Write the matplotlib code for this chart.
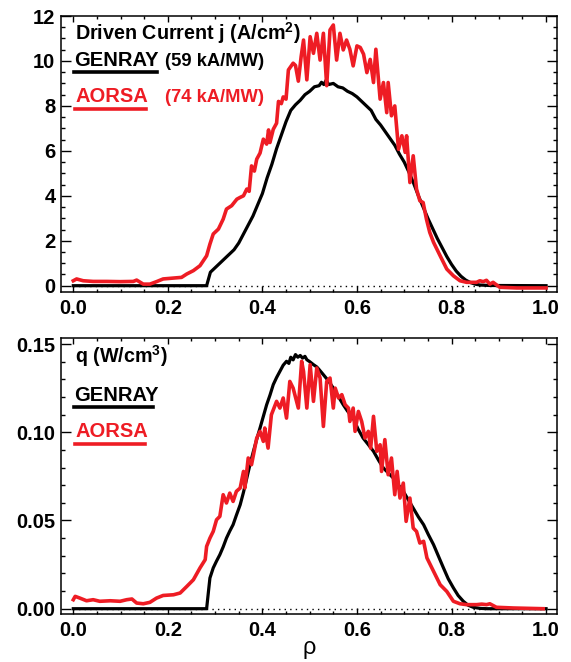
import matplotlib
matplotlib.use("Agg")
import matplotlib.pyplot as plt
from matplotlib.ticker import MultipleLocator

plt.rcParams['font.family'] = ['Liberation Sans', 'DejaVu Sans']
plt.rcParams['mathtext.fontset'] = 'custom'
plt.rcParams['mathtext.rm'] = 'Liberation Sans:bold'
plt.rcParams['mathtext.bf'] = 'Liberation Sans:bold'

# ---------------- data: driven current j (A/cm^2) ----------------
rho_j_genray = [0.000, 0.282, 0.286, 0.290, 0.300, 0.310, 0.320, 0.330, 0.340, 0.350,
                0.360, 0.370, 0.380, 0.390, 0.400, 0.410, 0.420, 0.430, 0.440, 0.450,
                0.460, 0.470, 0.480, 0.490, 0.500, 0.510, 0.520, 0.525, 0.530, 0.535,
                0.540, 0.550, 0.560, 0.570, 0.580, 0.590, 0.600, 0.610, 0.620, 0.630,
                0.640, 0.650, 0.660, 0.670, 0.680, 0.690, 0.700, 0.710, 0.720, 0.730,
                0.740, 0.750, 0.760, 0.770, 0.780, 0.790, 0.800, 0.810, 0.820, 0.830,
                0.840, 0.850, 0.860, 0.880, 1.000]
j_genray = [0.0, 0.0, 0.3, 0.6, 0.8, 1.0, 1.2, 1.4, 1.6, 1.9,
            2.3, 2.7, 3.1, 3.6, 4.1, 4.8, 5.4, 6.1, 6.7, 7.3,
            7.8, 8.05, 8.25, 8.5, 8.65, 8.85, 8.9, 9.05, 8.95, 9.15,
            8.95, 9.0, 8.85, 8.8, 8.65, 8.55, 8.4, 8.2, 8.0, 7.8,
            7.4, 7.15, 6.85, 6.55, 6.25, 5.85, 5.5, 5.05, 4.55, 4.0,
            3.5, 3.0, 2.55, 2.1, 1.7, 1.3, 0.95, 0.65, 0.42, 0.25,
            0.14, 0.07, 0.03, 0.01, 0.0]

rho_j_aorsa = [0.000, 0.007, 0.021, 0.042, 0.071, 0.099, 0.127, 0.134, 0.148, 0.162,
               0.176, 0.190, 0.212, 0.229, 0.240, 0.254, 0.268, 0.282, 0.289, 0.296,
               0.307, 0.317, 0.324, 0.335, 0.346, 0.353, 0.360, 0.367, 0.372, 0.377,
               0.383, 0.388, 0.395, 0.402, 0.409, 0.413, 0.416, 0.423, 0.430, 0.434,
               0.440, 0.444, 0.450, 0.455, 0.465, 0.470, 0.476, 0.482, 0.487, 0.494,
               0.501, 0.508, 0.515, 0.522, 0.529, 0.536, 0.543, 0.550, 0.557, 0.564,
               0.571, 0.578, 0.585, 0.592, 0.600, 0.607, 0.614, 0.621, 0.628, 0.635,
               0.640, 0.649, 0.656, 0.663, 0.666, 0.673, 0.680, 0.688, 0.695, 0.702,
               0.705, 0.712, 0.719, 0.726, 0.733, 0.740, 0.747, 0.754, 0.762, 0.769,
               0.776, 0.790, 0.804, 0.818, 0.832, 0.853, 0.860, 0.867, 0.874, 0.881,
               0.888, 0.902, 0.938, 1.000]
j_aorsa = [0.22, 0.30, 0.22, 0.19, 0.19, 0.18, 0.19, 0.25, 0.07, 0.07,
           0.18, 0.30, 0.34, 0.37, 0.52, 0.67, 0.89, 1.33, 1.85, 2.30,
           2.52, 2.96, 3.41, 3.56, 3.85, 3.93, 4.00, 4.30, 4.20, 5.33,
           5.10, 5.63, 5.90, 6.52, 6.30, 6.93, 6.37, 6.96, 7.23, 8.20,
           8.10, 8.40, 8.30, 9.60, 9.90, 9.80, 9.10, 10.2, 10.93, 9.16,
           11.08, 10.34, 11.23, 10.04, 11.23, 8.90, 11.38, 11.60, 10.04, 11.23,
           10.49, 10.93, 10.52, 9.78, 10.67, 10.60, 10.30, 9.48, 10.07, 9.04,
           10.52, 8.30, 9.04, 7.70, 9.04, 7.56, 8.00, 6.07, 6.67, 5.93,
           6.67, 4.59, 5.78, 4.30, 3.78, 3.70, 2.96, 2.37, 1.93, 1.63,
           1.33, 0.74, 0.44, 0.22, 0.15, 0.15, 0.22, 0.18, 0.24, 0.07,
           0.15, -0.07, -0.10, -0.10]

# ---------------- data: power density q (W/cm^3) ----------------
rho_q_genray = [0.000, 0.282, 0.286, 0.289, 0.296, 0.303, 0.310, 0.317, 0.324, 0.331,
                0.338, 0.345, 0.353, 0.360, 0.367, 0.374, 0.381, 0.388, 0.395, 0.402,
                0.409, 0.416, 0.423, 0.430, 0.437, 0.444, 0.451, 0.456, 0.460, 0.465,
                0.470, 0.475, 0.480, 0.485, 0.490, 0.494, 0.500, 0.508, 0.515, 0.520,
                0.529, 0.540, 0.550, 0.560, 0.571, 0.580, 0.592, 0.602, 0.613, 0.624,
                0.635, 0.646, 0.656, 0.666, 0.677, 0.688, 0.698, 0.708, 0.719, 0.730,
                0.741, 0.751, 0.762, 0.772, 0.783, 0.793, 0.804, 0.814, 0.825, 0.835,
                0.846, 0.860, 0.875, 1.000]
q_genray = [0.0, 0.0, 0.010, 0.0174, 0.0231, 0.027, 0.0306, 0.035, 0.040, 0.044,
            0.0476, 0.053, 0.0589, 0.066, 0.074, 0.082, 0.0892, 0.096, 0.1024, 0.109,
            0.1156, 0.121, 0.127, 0.131, 0.1345, 0.138, 0.1402, 0.139, 0.1425, 0.141,
            0.1440, 0.1425, 0.1435, 0.1420, 0.1430, 0.1411, 0.140, 0.1383, 0.137, 0.1355,
            0.1326, 0.129, 0.1250, 0.1205, 0.1156, 0.112, 0.108, 0.102, 0.0967, 0.093,
            0.0892, 0.084, 0.0797, 0.077, 0.074, 0.070, 0.0665, 0.062, 0.057, 0.052,
            0.0476, 0.042, 0.0363, 0.030, 0.0231, 0.017, 0.0118, 0.0075, 0.0042, 0.002,
            0.0008, 0.0002, 0.0, 0.0]

rho_q_aorsa = [0.000, 0.004, 0.014, 0.028, 0.042, 0.056, 0.078, 0.099, 0.113, 0.124,
               0.134, 0.148, 0.162, 0.176, 0.190, 0.212, 0.226, 0.240, 0.254, 0.268,
               0.279, 0.282, 0.289, 0.296, 0.303, 0.310, 0.317, 0.324, 0.331, 0.338,
               0.345, 0.353, 0.360, 0.363, 0.370, 0.377, 0.388, 0.395, 0.402, 0.405,
               0.412, 0.419, 0.430, 0.437, 0.444, 0.451, 0.458, 0.465, 0.476, 0.483,
               0.487, 0.494, 0.501, 0.508, 0.515, 0.522, 0.529, 0.536, 0.543, 0.550,
               0.554, 0.561, 0.568, 0.575, 0.582, 0.585, 0.592, 0.596, 0.603, 0.610,
               0.617, 0.624, 0.629, 0.635, 0.642, 0.649, 0.652, 0.659, 0.666, 0.673,
               0.680, 0.685, 0.691, 0.698, 0.704, 0.712, 0.719, 0.726, 0.733, 0.741,
               0.748, 0.755, 0.762, 0.769, 0.776, 0.790, 0.804, 0.818, 0.832, 0.853,
               0.864, 0.874, 0.881, 0.895, 0.931, 0.994]
q_aorsa = [0.0051, 0.0070, 0.0060, 0.0045, 0.0051, 0.0042, 0.0045, 0.0042, 0.0051, 0.0055,
           0.0032, 0.0028, 0.0036, 0.0060, 0.0075, 0.0079, 0.0089, 0.0126, 0.0164, 0.0231,
           0.0278, 0.0353, 0.0400, 0.0438, 0.0504, 0.0523, 0.0646, 0.0599, 0.0655, 0.0608,
           0.0665, 0.0684, 0.0778, 0.0684, 0.0854, 0.0816, 0.0967, 0.1005, 0.0948, 0.1024,
           0.0910, 0.1099, 0.1175, 0.1137, 0.1194, 0.1080, 0.1288, 0.1250, 0.1137, 0.1402,
           0.1345, 0.1137, 0.1383, 0.1175, 0.1364, 0.1307, 0.1033, 0.1288, 0.1307, 0.1137,
           0.1250, 0.1194, 0.1213, 0.1156, 0.1137, 0.1061, 0.1137, 0.1005, 0.1118, 0.1061,
           0.0967, 0.1005, 0.0910, 0.1090, 0.0892, 0.0929, 0.0778, 0.0958, 0.0759, 0.0854,
           0.0646, 0.0778, 0.0627, 0.0712, 0.0495, 0.0627, 0.0457, 0.0438, 0.0372, 0.0382,
           0.0288, 0.0250, 0.0212, 0.0174, 0.0136, 0.0098, 0.0042, 0.0028, 0.0023, 0.0023,
           0.0026, 0.0023, 0.0028, 0.0008, 0.0004, 0.0]

x_ticks = [0.0, 0.2, 0.4, 0.6, 0.8, 1.0]
j_ticks = [0, 2, 4, 6, 8, 10, 12]
q_ticks = [0.00, 0.05, 0.10, 0.15]

RED = '#ee1c24'
W, H = 571, 662

fig = plt.figure(figsize=(W / 100, H / 100), dpi=100)


def px_axes(left, top, right, bottom):
    return fig.add_axes([left / W, 1 - bottom / H, (right - left) / W, (bottom - top) / H])


ax1 = px_axes(61, 16, 556.7, 291.7)
ax2 = px_axes(61, 338, 556.7, 614)


def style(ax, yticks, ymin, ymax, yminor, fmt):
    ax.set_xlim(-0.026, 1.0225)
    ax.set_ylim(ymin, ymax)
    ax.set_xticks(x_ticks)
    ax.set_xticklabels([f"{v:.1f}" for v in x_ticks])
    ax.set_yticks(yticks)
    ax.set_yticklabels([fmt.format(v) for v in yticks])
    ax.xaxis.set_minor_locator(MultipleLocator(0.05))
    ax.yaxis.set_minor_locator(MultipleLocator(yminor))
    ax.tick_params(axis='both', which='both', direction='in', top=True, right=True,
                   width=1.0, colors='black')
    ax.tick_params(axis='x', which='major', length=4.5, pad=5)
    ax.tick_params(axis='x', which='minor', length=2.2)
    ax.tick_params(axis='y', which='major', length=7.5, pad=4)
    ax.tick_params(axis='y', which='minor', length=2.6)
    for lab in ax.get_xticklabels() + ax.get_yticklabels():
        lab.set_fontsize(14.5)
        lab.set_fontweight('bold')
    for s in ax.spines.values():
        s.set_linewidth(1.1)
    ax.plot([0, 1], [0, 0], ls=(0, (1, 3)), lw=1.0, color='black', zorder=1)


style(ax1, j_ticks, -0.267, 12.0, 0.5, "{:d}")
style(ax2, q_ticks, -0.0030, 0.1534, 0.01, "{:.2f}")

ax1.plot(rho_j_genray, j_genray, color='black', lw=2.3, zorder=3)
ax1.plot(rho_j_aorsa, j_aorsa, color=RED, lw=2.6, zorder=4)
ax2.plot(rho_q_genray, q_genray, color='black', lw=2.3, zorder=3)
ax2.plot(rho_q_aorsa, q_aorsa, color=RED, lw=2.6, zorder=4)

ax2.set_xlabel('ρ', fontsize=17, labelpad=-2)


def ftext(x, y, s, **kw):
    fig.text(x / W, 1 - y / H, s, va='baseline', ha='left', fontweight='bold', **kw)


def uline(x0, x1, y, color):
    fig.add_artist(plt.Line2D([x0 / W, x1 / W], [1 - y / H, 1 - y / H], color=color, lw=2.6))


# top panel labels
ftext(75, 40, r'Driven Current j (A/cm$^{2}$)', fontsize=14.2, color='black')
ftext(74, 66, 'GENRAY', fontsize=14.5, color='black')
uline(74, 157, 71.5, 'black')
ftext(165, 66, '(59 kA/MW)', fontsize=13.2, color='black')
ftext(75, 101.5, 'AORSA', fontsize=14.5, color=RED)
uline(75, 146, 108.5, RED)
ftext(165, 101.5, '(74 kA/MW)', fontsize=13.2, color=RED)

# bottom panel labels
ftext(75, 363, r'q (W/cm$^{3}$)', fontsize=14.2, color='black')
ftext(74, 401, 'GENRAY', fontsize=14.5, color='black')
uline(74, 153, 406.5, 'black')
ftext(75, 437, 'AORSA', fontsize=14.5, color=RED)
uline(75, 145, 443.5, RED)

fig.savefig('out.png', dpi=100)
